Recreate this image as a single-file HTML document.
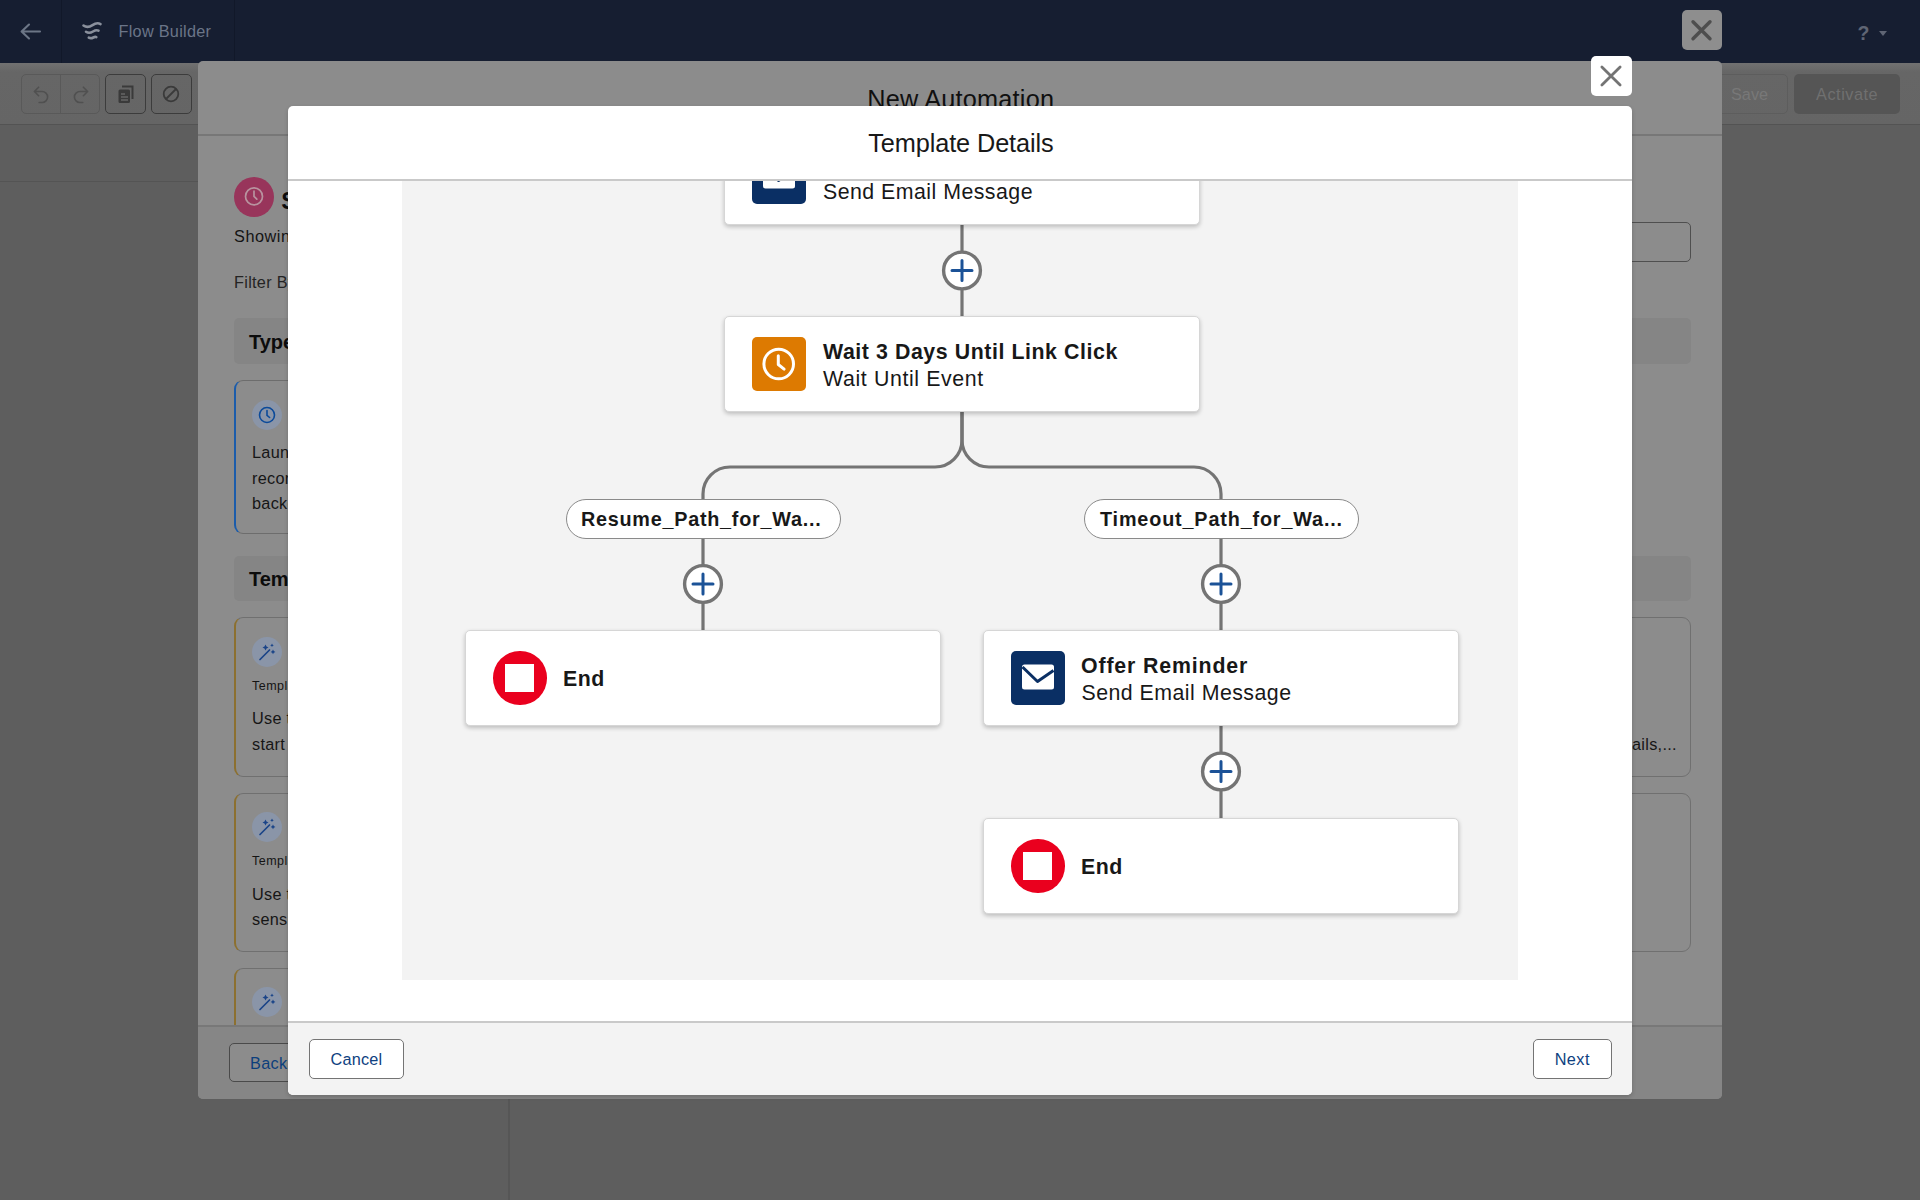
<!DOCTYPE html>
<html lang="en">
<head>
<meta charset="utf-8">
<title>Flow Builder</title>
<style>
*{box-sizing:border-box;margin:0;padding:0}
html,body{width:1920px;height:1200px;overflow:hidden}
body{background:#5e5e5e;font-family:"Liberation Sans",sans-serif;position:relative;color:#181818}
.abs{position:absolute}
.t{position:absolute;white-space:nowrap;line-height:1}
/* top bar */
#topbar{left:0;top:0;width:1920px;height:63px;background:#161e31}
#toolbar{left:0;top:63px;width:1920px;height:62px;background:linear-gradient(#717171,#666 9px,#656565);border-bottom:1px solid #535353}
.tbtn{position:absolute;top:74.400px;height:39.200px;border-radius:5px}
/* outer modal */
#outer{left:198px;top:61px;width:1524px;height:1038px;background:#8c8c8c;border-radius:5px;overflow:hidden}
/* inner modal */
#inner{left:288px;top:106px;width:1344px;height:988.500px;background:#fff;border-radius:5px;overflow:hidden;box-shadow:0 2px 4px rgba(0,0,0,.18)}
.card{position:absolute;width:476px;height:95.500px;background:#fff;border:1px solid #d6d6d6;border-radius:5px;box-shadow:0 2px 4px rgba(0,0,0,.22)}
.ttl{font-weight:700;font-size:21.33px;letter-spacing:.57px;color:#181818}
.sub{font-size:21.33px;letter-spacing:.47px;color:#181818}
.pill{position:absolute;height:40px;width:274.500px;border:1.700px solid #8a8a8a;border-radius:20px;background:#fff}
.btn{position:absolute;height:40px;border:1px solid #747474;border-radius:5px;background:#fff;color:#0b4a8f;font-size:16.25px}
</style>
</head>
<body>

<!-- ===== page behind (dimmed) ===== -->
<div id="topbar" class="abs"></div>
<div class="abs" style="left:61px;top:0;width:1px;height:63px;background:#111829"></div>
<div class="abs" style="left:234px;top:0;width:1px;height:63px;background:#111829"></div>
<svg class="abs" style="left:18px;top:20px" width="26" height="24" viewBox="0 0 26 24"><path d="M22 11.5H4M11 4.5L3.6 11.5L11 18.5" fill="none" stroke="#6c7686" stroke-width="2.1" stroke-linecap="round" stroke-linejoin="round"/></svg>
<svg class="abs" style="left:80px;top:19px" width="24" height="24" viewBox="0 0 24 24"><g fill="none" stroke="#8a909c" stroke-width="2.6" stroke-linecap="round"><path d="M3.5 6.5c3 2.2 6 1.6 9-.4s5.600-2.400 8-1"/><path d="M6 12.800c2.200 1.500 4.600 1.200 7-.3s4-1.700 5.500-.8"/><path d="M8.800 18.600c1.500.9 3 .7 4.500-.1s2.200-.8 3-.4"/></g></svg>
<div class="t" style="left:118.500px;top:22.500px;font-size:16.250px;letter-spacing:.28px;color:#6b7588">Flow Builder</div>
<div class="t" style="left:1857.500px;top:24px;font-size:19.500px;font-weight:700;color:#5f6574">?</div>
<div class="abs" style="left:1879px;top:31px;width:0;height:0;border-left:4.500px solid transparent;border-right:4.500px solid transparent;border-top:5px solid #5f6574"></div>

<div id="toolbar" class="abs"></div>
<div class="tbtn" style="left:21px;width:79px;border:1px solid #595959"></div>
<div class="abs" style="left:60px;top:75px;width:1px;height:38px;background:#595959"></div>
<div class="tbtn" style="left:105px;width:41px;border:1.500px solid #3c3c3c"></div>
<div class="tbtn" style="left:151px;width:41px;border:1.500px solid #3c3c3c"></div>
<svg class="abs" style="left:30px;top:83.500px" width="23" height="23" viewBox="0 0 20 20"><path d="M4 6.500h6.500a4.800 4.800 0 0 1 0 9.600H8M7.500 2.800L3.800 6.500l3.700 3.700" fill="none" stroke="#505050" stroke-width="1.400" stroke-linecap="round" stroke-linejoin="round"/></svg>
<svg class="abs" style="left:68.500px;top:83.500px" width="23" height="23" viewBox="0 0 20 20"><path d="M16 6.500H9.500a4.800 4.800 0 0 0 0 9.600H12M12.500 2.800l3.700 3.700-3.700 3.700" fill="none" stroke="#505050" stroke-width="1.400" stroke-linecap="round" stroke-linejoin="round"/></svg>
<svg class="abs" style="left:116px;top:85px" width="20" height="20" viewBox="0 0 20 20"><path d="M6 1.500h10.500v12.500" fill="none" stroke="#3a3a3a" stroke-width="2"/><rect x="2.500" y="4.500" width="11.500" height="13.500" rx="1.500" fill="#3a3a3a"/><path d="M5 9h4M5 12h7M5 15h7" stroke="#666" stroke-width="1.300"/></svg>
<svg class="abs" style="left:161px;top:84px" width="20" height="20" viewBox="0 0 20 20"><circle cx="10" cy="10" r="7.300" fill="none" stroke="#3a3a3a" stroke-width="1.800"/><path d="M5 15L15 5" stroke="#3a3a3a" stroke-width="1.800"/></svg>

<div class="tbtn" style="left:1700px;width:88px;border:1px solid #5d5d5d"></div>
<div class="t" style="left:1731px;top:85.700px;font-size:16.250px;color:#787878">Save</div>
<div class="tbtn" style="left:1794px;width:106px;background:#555"></div>
<div class="t" style="left:1816px;top:85.700px;font-size:16.250px;letter-spacing:.55px;color:#707070">Activate</div>

<div class="abs" style="left:0;top:181px;width:198px;height:1px;background:#545454"></div>
<div class="abs" style="left:508px;top:1098px;width:2px;height:102px;background:#565656"></div>

<!-- dimmed close button for outer modal -->
<div class="abs" style="left:1682px;top:10px;width:40px;height:40px;border-radius:5px;background:#8e8e8e"></div>
<svg class="abs" style="left:1682px;top:10px" width="40" height="40" viewBox="0 0 40 40"><path d="M11 11.700l17 17M28 11.700l-17 17" stroke="#4e4e4e" stroke-width="3.400" stroke-linecap="round"/></svg>

<!-- ===== outer modal (New Automation) ===== -->
<div id="outer" class="abs">
  <div class="abs" style="left:0;top:73px;width:1524px;height:2px;background:#777"></div>
  <div class="t" style="left:669.200px;top:25.800px;font-size:25.300px;letter-spacing:.2px;color:#101010">New Automation</div>

  <!-- header row -->
  <div class="abs" style="left:36px;top:116px;width:40px;height:40px;border-radius:50%;background:#98355b"></div>
  <svg class="abs" style="left:36px;top:116px" width="40" height="40" viewBox="0 0 40 40"><circle cx="20" cy="19.400" r="8.500" fill="none" stroke="#b8939f" stroke-width="1.700"/><path d="M20 14.200v5.200l2.800 2.800" fill="none" stroke="#b8939f" stroke-width="1.700" stroke-linecap="round"/></svg>
  <div class="t" style="left:83.300px;top:128.500px;font-size:23.200px;font-weight:700;color:#0c0c0c">Scheduled</div>
  <div class="t" style="left:36px;top:166.700px;font-size:16.250px;color:#141414;letter-spacing:.55px">Showing 12 items</div>
  <div class="t" style="left:36px;top:213px;font-size:16.250px;color:#242424;letter-spacing:.3px">Filter By</div>
  <!-- search box right -->
  <div class="abs" style="left:1193px;top:161px;width:300px;height:40px;border:1px solid #4f4f4f;border-radius:5px"></div>

  <!-- Type header -->
  <div class="abs" style="left:36px;top:257px;width:1457px;height:46px;border-radius:5px;background:#858585"></div>
  <div class="t" style="left:51px;top:271px;font-size:20px;font-weight:700;color:#0c0c0c">Type</div>
  <!-- type card -->
  <div class="abs" style="left:36px;top:319px;width:330px;height:154px;border:1px solid #6d6d6d;border-left:2.500px solid #1b5cab;border-radius:9px"></div>
  <div class="abs" style="left:54px;top:339px;width:30px;height:30px;border-radius:50%;background:#8a95a8"></div>
  <svg class="abs" style="left:54px;top:339px" width="30" height="30" viewBox="0 0 30 30"><circle cx="15" cy="15" r="7.500" fill="none" stroke="#0b4a9a" stroke-width="1.600"/><path d="M15 10.500v4.800l2.600 2.200" fill="none" stroke="#0b4a9a" stroke-width="1.600" stroke-linecap="round"/></svg>
  <div class="t" style="left:54px;top:379.300px;font-size:16.250px;line-height:25.300px;color:#161616;letter-spacing:.3px;white-space:pre">Launch a flow for a set of
records at a scheduled time in
background.</div>

  <!-- Templates header -->
  <div class="abs" style="left:36px;top:495px;width:1457px;height:45px;border-radius:5px;background:#858585"></div>
  <div class="t" style="left:51px;top:507.500px;font-size:20px;font-weight:700;color:#0c0c0c">Templates</div>

  <!-- template cards left -->
  <div class="abs" style="left:36px;top:556px;width:720px;height:160px;border:1px solid #707070;border-left:2.500px solid #8c7030;border-radius:9px"></div>
  <div class="abs" style="left:36px;top:732px;width:720px;height:159px;border:1px solid #707070;border-left:2.500px solid #8c7030;border-radius:9px"></div>
  <div class="abs" style="left:36px;top:907px;width:720px;height:159px;border:1px solid #707070;border-left:2.500px solid #8c7030;border-radius:9px"></div>
  <!-- template cards right -->
  <div class="abs" style="left:773px;top:556px;width:720px;height:160px;border:1px solid #707070;border-radius:9px"></div>
  <div class="abs" style="left:773px;top:732px;width:720px;height:159px;border:1px solid #707070;border-radius:9px"></div>
  <div class="t" style="left:1434px;top:675px;font-size:16.250px;color:#161616;letter-spacing:.3px">ails,...</div>

  <!-- wand icons -->
  <div class="abs" style="left:54px;top:576px;width:30px;height:30px;border-radius:50%;background:#8a95a8"></div>
  <div class="abs" style="left:54px;top:751px;width:30px;height:30px;border-radius:50%;background:#8a95a8"></div>
  <div class="abs" style="left:54px;top:926px;width:30px;height:30px;border-radius:50%;background:#8a95a8"></div>
  <svg class="abs" style="left:54px;top:576px" width="30" height="30" viewBox="0 0 30 30"><path d="M8 22.500L17.500 13" stroke="#1a4488" stroke-width="1.700" stroke-linecap="round"/><path d="M13.500 7.500l1 2 2 1-2 1-1 2-1-2-2-1 2-1zM21 12.500l.8 1.600 1.600.8-1.600.8-.8 1.600-.8-1.600-1.600-.8 1.600-.8zM20 6.500l.6 1.200 1.200.6-1.200.6-.6 1.200-.6-1.200-1.200-.6 1.200-.6z" fill="#1a4488"/></svg>
  <svg class="abs" style="left:54px;top:751px" width="30" height="30" viewBox="0 0 30 30"><path d="M8 22.500L17.500 13" stroke="#1a4488" stroke-width="1.700" stroke-linecap="round"/><path d="M13.500 7.500l1 2 2 1-2 1-1 2-1-2-2-1 2-1zM21 12.500l.8 1.600 1.600.8-1.600.8-.8 1.600-.8-1.600-1.600-.8 1.600-.8zM20 6.500l.6 1.200 1.200.6-1.200.6-.6 1.200-.6-1.200-1.200-.6 1.200-.6z" fill="#1a4488"/></svg>
  <svg class="abs" style="left:54px;top:926px" width="30" height="30" viewBox="0 0 30 30"><path d="M8 22.500L17.500 13" stroke="#1a4488" stroke-width="1.700" stroke-linecap="round"/><path d="M13.500 7.500l1 2 2 1-2 1-1 2-1-2-2-1 2-1zM21 12.500l.8 1.600 1.600.8-1.600.8-.8 1.600-.8-1.600-1.600-.8 1.600-.8zM20 6.500l.6 1.200 1.200.6-1.200.6-.6 1.200-.6-1.200-1.200-.6 1.200-.6z" fill="#1a4488"/></svg>
  <div class="t" style="left:54px;top:619px;font-size:12.500px;color:#141414;letter-spacing:.5px">Template</div>
  <div class="t" style="left:54px;top:794px;font-size:12.500px;color:#141414;letter-spacing:.5px">Template</div>
  <div class="t" style="left:54px;top:645.200px;font-size:16.250px;line-height:25.600px;color:#161616;letter-spacing:.3px;white-space:pre">Use this template to
start a scheduled flow</div>
  <div class="t" style="left:54px;top:820.500px;font-size:16.250px;line-height:25.600px;color:#161616;letter-spacing:.3px;white-space:pre">Use this template to
sensitive records on a</div>
  <!-- footer -->
  <div class="abs" style="left:0;top:964px;width:1524px;height:76px;background:#868686;border-top:2px solid #787878"></div>
  <div class="abs" style="left:31px;top:982px;width:120px;height:39px;border:1px solid #4a4a4a;border-radius:5px;background:#8c8c8c"></div>
  <div class="t" style="left:52px;top:993.500px;font-size:16.250px;color:#0c3f7c;letter-spacing:.3px">Back</div>
</div>

<!-- ===== inner modal (Template Details) ===== -->
<div class="abs" style="left:1591px;top:55.500px;width:41px;height:40px;border-radius:5px;background:#fff"></div>
<svg class="abs" style="left:1591.400px;top:55.700px" width="40" height="40" viewBox="0 0 40 40"><path d="M10.900 10.900l18.200 18.200M29.100 10.900l-18.200 18.200" stroke="#747474" stroke-width="2.800" stroke-linecap="round"/></svg>

<div id="inner" class="abs">
  <div class="t" style="left:580.200px;top:24.600px;font-size:25.300px;letter-spacing:-.1px;color:#181818">Template Details</div>
  <div class="abs" style="left:0;top:73px;width:1344px;height:2px;background:#c9c9c9"></div>
  <!-- canvas -->
  <div id="canvas" class="abs" style="left:114px;top:75px;width:1116px;height:799px;background:#f3f3f3;overflow:hidden">
    <!-- coordinates inside canvas = page - (402,181) -->
    <svg class="abs" style="left:0;top:0" width="1116" height="799" viewBox="402 181 1116 799">
      <g fill="none" stroke="#747474" stroke-width="3.200">
        <path d="M962 224V316"/>
        <path d="M962 411V440a27 27 0 0 1-27 27H730a27 27 0 0 0-27 27V630"/>
        <path d="M962 411V440a27 27 0 0 0 27 27H1194a27 27 0 0 1 27 27V630"/>
        <path d="M1221 725V818"/>
      </g>
    </svg>
    <!-- card 1 (cut off) -->
    <div class="card" style="left:322px;top:-52px">
      <div class="abs" style="left:27px;top:20.300px;width:53.500px;height:53.500px;border-radius:5px;background:#0a2f64"></div>
      <svg class="abs" style="left:27px;top:20.300px" width="54" height="54" viewBox="0 0 54 54"><rect x="11" y="13.500" width="32" height="25" rx="2.500" fill="#fff"/><path d="M11.500 16L26.500 30.500L42.500 19.500" fill="none" stroke="#0a2f64" stroke-width="3" stroke-linejoin="round"/></svg>
      <div class="t sub" style="left:98px;top:51.500px">Send Email Message</div>
    </div>
    <!-- card 2 -->
    <div class="card" style="left:322px;top:135px">
      <div class="abs" style="left:27px;top:20.300px;width:53.500px;height:53.500px;border-radius:5px;background:#dd7a01"></div>
      <svg class="abs" style="left:27px;top:20.300px" width="54" height="54" viewBox="0 0 54 54"><circle cx="26.700" cy="27" r="14.800" fill="none" stroke="#fff" stroke-width="3"/><path d="M26.300 18.800v8.700l5.800 4.600" fill="none" stroke="#fff" stroke-width="3" stroke-linecap="round" stroke-linejoin="round"/></svg>
      <div class="t ttl" style="left:98px;top:24.500px">Wait 3 Days Until Link Click</div>
      <div class="t sub" style="left:98px;top:52.300px;letter-spacing:.62px">Wait Until Event</div>
    </div>
    <!-- pills -->
    <div class="pill" style="left:164px;top:318px"></div>
    <div class="t" style="left:179px;top:329px;font-size:19.800px;font-weight:700;letter-spacing:.75px;color:#181818">Resume_Path_for_Wa...</div>
    <div class="pill" style="left:682px;top:318px"></div>
    <div class="t" style="left:698px;top:329px;font-size:19.800px;font-weight:700;letter-spacing:.85px;color:#181818">Timeout_Path_for_Wa...</div>
    <!-- End card left -->
    <div class="card" style="left:63px;top:449px">
      <div class="abs" style="left:27px;top:20.300px;width:53.500px;height:53.500px;border-radius:50%;background:#ea001e"></div>
      <div class="abs" style="left:38.900px;top:32.700px;width:28.700px;height:28.700px;background:#fff"></div>
      <div class="t ttl" style="left:97px;top:37.800px;letter-spacing:.5px">End</div>
    </div>
    <!-- Offer Reminder -->
    <div class="card" style="left:581px;top:449px">
      <div class="abs" style="left:27px;top:20.300px;width:53.500px;height:53.500px;border-radius:5px;background:#0a2f64"></div>
      <svg class="abs" style="left:27px;top:20.300px" width="54" height="54" viewBox="0 0 54 54"><rect x="11" y="13.500" width="32" height="25" rx="2.500" fill="#fff"/><path d="M11.500 16L26.500 30.500L42.500 19.500" fill="none" stroke="#0a2f64" stroke-width="3" stroke-linejoin="round"/></svg>
      <div class="t ttl" style="left:97px;top:25px;letter-spacing:.85px">Offer Reminder</div>
      <div class="t sub" style="left:97.500px;top:52.200px">Send Email Message</div>
    </div>
    <!-- End card right -->
    <div class="card" style="left:581px;top:637px">
      <div class="abs" style="left:27px;top:20.300px;width:53.500px;height:53.500px;border-radius:50%;background:#ea001e"></div>
      <div class="abs" style="left:38.900px;top:32.700px;width:28.700px;height:28.700px;background:#fff"></div>
      <div class="t ttl" style="left:97px;top:37.800px;letter-spacing:.5px">End</div>
    </div>
    <!-- plus buttons -->
    <svg class="abs" style="left:0;top:0" width="1116" height="799" viewBox="402 181 1116 799">
      <g id="pluses">
        <g transform="translate(962 270.500)"><circle r="18.400" fill="#fff" stroke="#747474" stroke-width="3.400"/><path d="M-10 0H10M0-10V10" stroke="#1b5297" stroke-width="3" stroke-linecap="round"/></g>
        <g transform="translate(703 584)"><circle r="18.400" fill="#fff" stroke="#747474" stroke-width="3.400"/><path d="M-10 0H10M0-10V10" stroke="#1b5297" stroke-width="3" stroke-linecap="round"/></g>
        <g transform="translate(1221 584)"><circle r="18.400" fill="#fff" stroke="#747474" stroke-width="3.400"/><path d="M-10 0H10M0-10V10" stroke="#1b5297" stroke-width="3" stroke-linecap="round"/></g>
        <g transform="translate(1221 771.500)"><circle r="18.400" fill="#fff" stroke="#747474" stroke-width="3.400"/><path d="M-10 0H10M0-10V10" stroke="#1b5297" stroke-width="3" stroke-linecap="round"/></g>
      </g>
    </svg>
  </div>
  <!-- footer -->
  <div class="abs" style="left:0;top:915px;width:1344px;height:74px;background:#f3f3f3;border-top:2px solid #c9c9c9"></div>
  <div class="btn" style="left:20.500px;top:933px;width:95.500px"></div>
  <div class="t" style="left:42.500px;top:944.500px;font-size:16.250px;color:#0e4180;letter-spacing:.2px">Cancel</div>
  <div class="btn" style="left:1244.500px;top:933px;width:79px"></div>
  <div class="t" style="left:1266.700px;top:944.500px;font-size:16.250px;color:#0e4180;letter-spacing:.45px">Next</div>
</div>

</body>
</html>
